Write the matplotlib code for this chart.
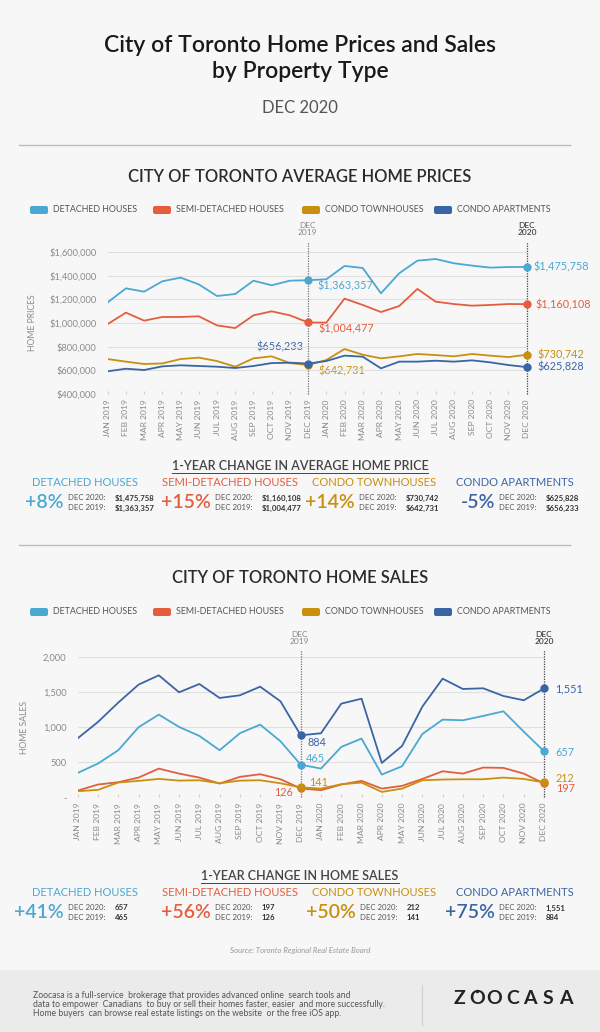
import matplotlib.pyplot as plt
from matplotlib.patches import FancyBboxPatch

plt.rcParams['font.family'] = ['Lato', 'DejaVu Sans']

W, H = 600, 1032
BG = '#f7f7f7'

months = ['JAN', 'FEB', 'MAR', 'APR', 'MAY', 'JUN', 'JUL', 'AUG', 'SEP', 'OCT', 'NOV', 'DEC']
years = ['2019', '2020']
x_labels = [m + ' ' + y for y in years for m in months]

names = ['DETACHED HOUSES', 'SEMI-DETACHED HOUSES', 'CONDO TOWNHOUSES', 'CONDO APARTMENTS']
colors = ['#4aa8d3', '#e45e3e', '#c98f0e', '#3a65a5']

# average prices, jan 2019 .. dec 2020
price_detached = [1175000, 1294000, 1266000, 1354000, 1385000, 1328000, 1229000, 1246000,
                  1359000, 1320000, 1359000, 1363357, 1371000, 1484000, 1467000, 1252000,
                  1422000, 1529000, 1543000, 1507000, 1487000, 1470000, 1475000, 1475758]
price_semi = [991000, 1088000, 1020000, 1051000, 1051000, 1057000, 980000, 957000,
              1065000, 1099000, 1065000, 1004477, 1003000, 1207000, 1153000, 1093000,
              1144000, 1289000, 1181000, 1161000, 1147000, 1153000, 1161000, 1160108]
price_townh = [694000, 672000, 652000, 657000, 694000, 706000, 677000, 629000,
               700000, 717000, 660000, 642731, 686000, 779000, 731000, 700000,
               717000, 737000, 728000, 717000, 737000, 723000, 711000, 730742]
price_apt = [590000, 612000, 601000, 632000, 641000, 635000, 629000, 618000,
             635000, 660000, 663000, 656233, 677000, 723000, 714000, 615000,
             672000, 672000, 680000, 672000, 683000, 666000, 643000, 625828]

# home sales, jan 2019 .. dec 2020
sales_detached = [348, 481, 671, 998, 1179, 1003, 875, 671, 913, 1036, 799, 465,
                  409, 718, 837, 324, 443, 903, 1107, 1098, 1160, 1226, 936, 657]
sales_semi = [96, 182, 215, 281, 409, 338, 281, 196, 291, 329, 258, 126,
              101, 182, 234, 124, 163, 262, 371, 338, 424, 419, 338, 197]
sales_townh = [87, 106, 210, 234, 262, 238, 243, 200, 238, 243, 200, 141,
               124, 186, 210, 77, 124, 243, 253, 257, 257, 281, 262, 212]
sales_apt = [841, 1074, 1350, 1606, 1739, 1497, 1615, 1416, 1454, 1577, 1369, 884,
             913, 1335, 1406, 490, 732, 1293, 1691, 1544, 1554, 1444, 1383, 1551]

price_ticks = [400000, 600000, 800000, 1000000, 1200000, 1400000, 1600000]
price_tick_labels = ['$400,000', '$600,000', '$800,000', '$1,000,000', '$1,200,000', '$1,400,000', '$1,600,000']
sales_ticks = [0, 500, 1000, 1500, 2000]
sales_tick_labels = ['-', '500', '1,000', '1,500', '2,000']

price_pct = ['+8%', '+15%', '+14%', '-5%']
price_2020 = ['$1,475,758', '$1,160,108', '$730,742', '$625,828']
price_2019 = ['$1,363,357', '$1,004,477', '$642,731', '$656,233']
sales_pct = ['+41%', '+56%', '+50%', '+75%']
sales_2020 = ['657', '197', '212', '1,551']
sales_2019 = ['465', '126', '141', '884']

fig = plt.figure(figsize=(6, 10.32), dpi=100, facecolor=BG)
bg = fig.add_axes([0, 0, 1, 1])
bg.set_xlim(0, W)
bg.set_ylim(H, 0)
bg.axis('off')


def ax_at(x0, y0, x1, y1):
    a = fig.add_axes([x0 / W, 1 - y1 / H, (x1 - x0) / W, (y1 - y0) / H])
    a.set_facecolor('none')
    return a


# header
bg.text(300, 45, 'City of Toronto Home Prices and Sales', ha='center', va='center',
        fontsize=16.5, fontweight='semibold', color='#1a1a1a')
bg.text(300, 72, 'by Property Type', ha='center', va='center',
        fontsize=16.5, fontweight='semibold', color='#1a1a1a')
bg.text(300, 108, 'DEC 2020', ha='center', va='center', fontsize=12, color='#555555')
bg.plot([19, 570], [145, 145], color='#bdbdbd', lw=1)
bg.plot([19, 570], [545, 545], color='#bdbdbd', lw=1)
bg.text(300, 177, 'CITY OF TORONTO AVERAGE HOME PRICES', ha='center', va='center',
        fontsize=11.9, fontweight='semibold', color='#2b2b2b')
bg.text(300, 578, 'CITY OF TORONTO HOME SALES', ha='center', va='center',
        fontsize=11.9, fontweight='semibold', color='#2b2b2b')

# legends
leg_patch_x = [30, 153, 302, 434]
for ly in [210, 612]:
    for px, nm, c in zip(leg_patch_x, names, colors):
        bg.add_patch(FancyBboxPatch((px, ly - 4), 18, 8, boxstyle='round,pad=0,rounding_size=2',
                                    fc=c, ec='none'))
        bg.text(px + 23, ly, nm, ha='left', va='center', fontsize=6.4, color='#555555')


def draw_chart(ax, series, ticks, tick_labels, ylim, top_ext, ylabel):
    ax.set_xlim(0, 23)
    ax.set_ylim(*ylim)
    for t in ticks:
        ax.axhline(t, color='#e0e0e0', lw=0.8, zorder=0)
    for s, c in zip(series, colors):
        ax.plot(range(24), s, color=c, lw=1.3, zorder=3)
        ax.plot([11, 23], [s[11], s[23]], 'o', color=c, ms=5, zorder=4, clip_on=False)
    for xi, lc in [(11, '#777777'), (23, '#444444')]:
        ax.plot([xi, xi], [ylim[0], top_ext], color=lc, lw=0.9, ls=(0, (1, 1)),
                zorder=2, clip_on=False)
    ax.set_yticks(ticks)
    ax.set_yticklabels(tick_labels)
    ax.set_xticks(range(24))
    ax.set_xticklabels(x_labels, rotation=90)
    ax.tick_params(axis='y', length=0, pad=8, labelsize=6.7, labelcolor='#8a8a8a')
    ax.tick_params(axis='x', length=2, direction='in', color='#d0d0d0', pad=4,
                   labelsize=6.1, labelcolor='#8a8a8a')
    for sp in ax.spines.values():
        sp.set_visible(False)
    ax.set_ylabel(ylabel, fontsize=6.2, color='#8a8a8a')


ax1 = ax_at(107.7, 252.3, 526.7, 393.7)
draw_chart(ax1, [price_detached, price_semi, price_townh, price_apt], price_ticks,
           price_tick_labels, (400000, 1600000), 1685000, 'HOME PRICES')
ax1.yaxis.set_label_coords(-0.168, 0.5)

ax2 = ax_at(77.7, 657, 544, 797.3)
draw_chart(ax2, [sales_detached, sales_semi, sales_townh, sales_apt], sales_ticks,
           sales_tick_labels, (0, 2000), 2100, 'HOME SALES')
ax2.yaxis.set_label_coords(-0.105, 0.5)

# dec markers labels
for x, y, c, yr in [(307, 229, '#888888', '2019'), (527, 229, '#444444', '2020'),
                    (299, 638, '#888888', '2019'), (544, 638, '#444444', '2020')]:
    bg.text(x, y, 'DEC\n' + yr, ha='center', va='center', fontsize=6, color=c,
            linespacing=1.1, fontweight='normal' if yr == '2019' else 'semibold')

# value annotations, prices
fs_ann = 7.8
bg.text(317, 286, price_2019[0], ha='left', va='center', fontsize=fs_ann, color=colors[0])
bg.text(318, 329, price_2019[1], ha='left', va='center', fontsize=fs_ann, color=colors[1])
bg.text(303, 347, price_2019[3], ha='right', va='center', fontsize=fs_ann, color=colors[3])
bg.text(318, 371, price_2019[2], ha='left', va='center', fontsize=fs_ann, color=colors[2])
bg.text(533, 267, price_2020[0], ha='left', va='center', fontsize=fs_ann, color=colors[0])
bg.text(535, 305, price_2020[1], ha='left', va='center', fontsize=fs_ann, color=colors[1])
bg.text(537, 355, price_2020[2], ha='left', va='center', fontsize=fs_ann, color=colors[2])
bg.text(537, 367, price_2020[3], ha='left', va='center', fontsize=fs_ann, color=colors[3])

# value annotations, sales
bg.text(307, 743, sales_2019[3], ha='left', va='center', fontsize=fs_ann, color=colors[3])
bg.text(306, 758, sales_2019[0], ha='left', va='center', fontsize=fs_ann, color=colors[0])
bg.text(309, 783, sales_2019[2], ha='left', va='center', fontsize=fs_ann, color=colors[2])
bg.text(293, 792, sales_2019[1], ha='right', va='center', fontsize=fs_ann, color=colors[1])
bg.text(555, 689, sales_2020[3], ha='left', va='center', fontsize=fs_ann, color=colors[3])
bg.text(555, 752, sales_2020[0], ha='left', va='center', fontsize=fs_ann, color=colors[0])
bg.text(556, 778, sales_2020[2], ha='left', va='center', fontsize=fs_ann, color=colors[2])
bg.text(556, 789, sales_2020[1], ha='left', va='center', fontsize=fs_ann, color=colors[1])


# 1-year change rows
def change_row(y_head, heading, pct, v20, v19, pct_right):
    t = bg.text(300, y_head, heading, ha='center', va='center', fontsize=9,
                fontweight='semibold', color='#444444')
    fig.canvas.draw()
    bb = t.get_window_extent().transformed(bg.transData.inverted())
    bg.plot([bb.x0, bb.x1], [y_head + 6.5, y_head + 6.5], color='#444444', lw=0.7)
    cat_cx = [85, 230, 374, 515]
    for i in range(4):
        bg.text(cat_cx[i], y_head + 17, names[i], ha='center', va='center', fontsize=8,
                color=colors[i])
        bg.text(pct_right[i], y_head + 37, pct[i], ha='right', va='center', fontsize=14,
                fontweight='semibold', color=colors[i])
        lx = pct_right[i] + 4
        bg.text(lx, y_head + 32, 'DEC 2020:', ha='left', va='center', fontsize=5.6, color='#555555')
        bg.text(lx, y_head + 42, 'DEC 2019:', ha='left', va='center', fontsize=5.6, color='#555555')
        bg.text(lx + 47, y_head + 32, v20[i], ha='left', va='center', fontsize=5.6,
                fontweight='bold', color='#333333')
        bg.text(lx + 47, y_head + 42, v19[i], ha='left', va='center', fontsize=5.6,
                fontweight='bold', color='#333333')


change_row(466, '1-YEAR CHANGE IN AVERAGE HOME PRICE', price_pct, price_2020, price_2019,
           [64, 211, 355, 495])
change_row(876, '1-YEAR CHANGE IN HOME SALES', sales_pct, sales_2020, sales_2019,
           [64, 211, 356, 495])

bg.text(300, 951, 'Source: Toronto Regional Real Estate Board', ha='center', va='center',
        fontsize=5.6, style='italic', color='#999999')

# footer
bg.add_patch(plt.Rectangle((0, 970), W, 62, fc='#ebebeb', ec='none'))
foot = ['Zoocasa is a full-service  brokerage that provides advanced online  search tools and',
        'data to empower  Canadians  to buy or sell their homes faster, easier  and more successfully.',
        'Home buyers  can browse real estate listings on the website  or the free iOS app.']
for i, ln in enumerate(foot):
    bg.text(33, 995 + i * 9.5, ln, ha='left', va='center', fontsize=6.2, color='#555555')
bg.plot([422, 422], [985, 1025], color='#d0d0d0', lw=0.8)
for i, ch in enumerate('ZOOCASA'):
    bg.text(459 + i * 17.8, 999, ch, ha='center', va='center', fontsize=14,
            fontweight='bold', color='#222222')
bg.plot([476.5], [991], 'o', color='#222222', ms=1.5)

fig.savefig('out.png', dpi=100, facecolor=BG)
